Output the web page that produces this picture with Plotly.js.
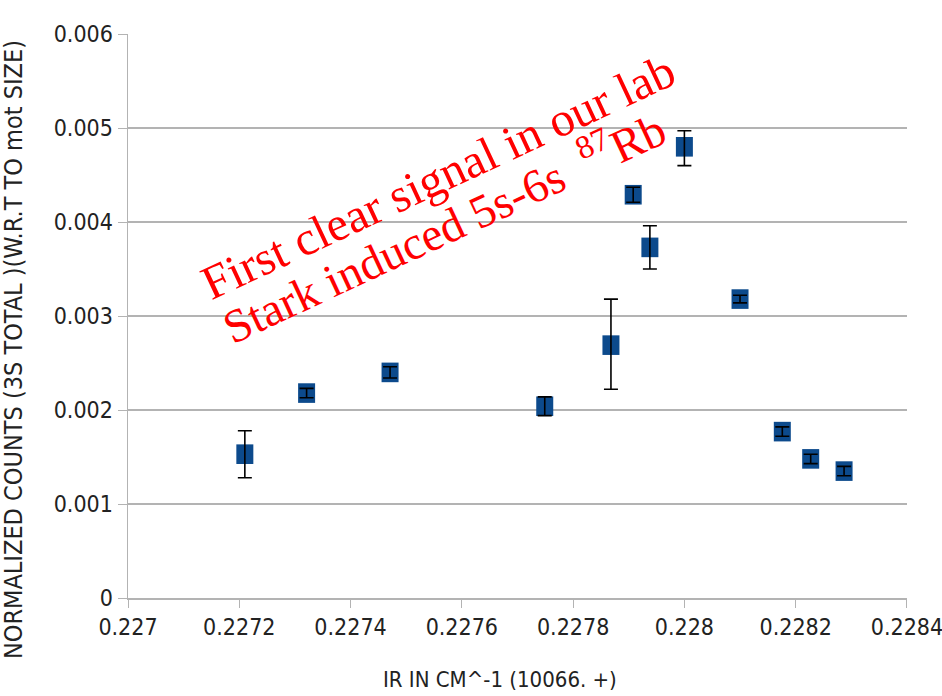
<!DOCTYPE html>
<html>
<head>
<meta charset="utf-8">
<script src="https://cdn.plot.ly/plotly-3.0.1.min.js"></script>
<style>html,body{margin:0;padding:0;background:#fff;}#chart{width:942px;height:696px;}</style>
</head>
<body>
<div id="chart"></div>
<script>
const irValues = [0.22721, 0.227321, 0.227471, 0.227749, 0.227868, 0.227908, 0.227938, 0.228, 0.2281, 0.228176, 0.228227, 0.228287];
const counts = [0.00153, 0.00218, 0.0024, 0.00204, 0.00269, 0.00429, 0.00373, 0.0048, 0.00318, 0.00177, 0.00148, 0.00135];
const errPlus = [0.00025, 0.00005, 0.00006, 0.0001, 0.00049, 0.00008, 0.00023, 0.00017, 0.00004, 0.00005, 0.00005, 0.00005];
const errMinus = [0.00025, 0.00005, 0.00006, 0.0001, 0.00047, 0.00008, 0.00023, 0.0002, 0.00004, 0.00005, 0.00005, 0.00005];
const xTickVals = [0.227, 0.2272, 0.2274, 0.2276, 0.2278, 0.228, 0.2282, 0.2284];
const xTickText = ["0.227", "0.2272", "0.2274", "0.2276", "0.2278", "0.228", "0.2282", "0.2284"];
const yTickVals = [0, 0.001, 0.002, 0.003, 0.004, 0.005, 0.006];
const yTickText = ["0", "0.001", "0.002", "0.003", "0.004", "0.005", "0.006"];
const xTitle = 'IR IN CM^-1 (10066. +)';
const yTitle = 'NORMALIZED COUNTS (3S TOTAL )(W.R.T TO mot SIZE)';

const markersTrace = {
  x: irValues, y: counts, type: 'scatter', mode: 'markers',
  marker: {symbol: 'line-ns', size: 14, color: '#0c4a8c', line: {width: 17, color: '#0c4a8c'}},
  hoverinfo: 'none'
};
const errorTrace = {
  x: irValues, y: counts, type: 'scatter', mode: 'markers',
  marker: {size: 1, color: 'rgba(0,0,0,0)'},
  error_y: {type: 'data', symmetric: false, array: errPlus, arrayminus: errMinus, color: '#000', thickness: 1.6, width: 7},
  hoverinfo: 'none'
};

const fontNarrow = 'DejaVu Sans Condensed, sans-serif';
const layout = {
  width: 942, height: 696,
  margin: {l: 128, r: 35, t: 34, b: 98},
  paper_bgcolor: '#fff', plot_bgcolor: '#fff',
  showlegend: false,
  xaxis: {
    range: [0.227, 0.2284001], tickvals: xTickVals, ticktext: xTickText,
    showgrid: false, zeroline: false, showline: true, linecolor: '#b3b3b3', linewidth: 1.5,
    ticks: 'outside', ticklen: 8, tickcolor: '#b3b3b3', ticklabeloverflow: 'allow',
    tickfont: {family: fontNarrow, size: 23, color: '#222'}
  },
  yaxis: {
    range: [0, 0.006], tickvals: yTickVals, ticktext: yTickText,
    showgrid: true, gridcolor: '#b3b3b3', gridwidth: 1.5, zeroline: false,
    showline: true, linecolor: '#b3b3b3', linewidth: 1.5,
    ticks: 'outside', ticklen: 9, tickcolor: '#b3b3b3',
    tickfont: {family: fontNarrow, size: 23, color: '#222'}
  },
  annotations: [
    {xref: 'paper', yref: 'paper', x: 0.478, y: -0.145, xanchor: 'center', yanchor: 'middle',
     text: xTitle, showarrow: false, font: {family: fontNarrow, size: 22, color: '#222'}},
    {xref: 'paper', yref: 'paper', x: -0.146, y: 0.44, xanchor: 'center', yanchor: 'middle',
     text: yTitle, showarrow: false, textangle: -90, font: {family: fontNarrow, size: 25, color: '#222'}},
    {xref: 'paper', yref: 'paper', x: 0.398, y: 0.748, xanchor: 'center', yanchor: 'middle',
     text: 'First clear signal in our lab', showarrow: false,
     textangle: -25, font: {family: 'Liberation Serif, serif', size: 48, color: '#ff0000'}},
    {xref: 'paper', yref: 'paper', x: 0.404, y: 0.661, xanchor: 'center', yanchor: 'middle',
     text: 'Stark induced 5s-6s  <sup>87</sup>Rb', showarrow: false,
     textangle: -25, font: {family: 'Liberation Serif, serif', size: 47, color: '#ff0000'}}
  ]
};

Plotly.newPlot('chart', [markersTrace, errorTrace], layout, {displayModeBar: false, staticPlot: true});
</script>
</body>
</html>
